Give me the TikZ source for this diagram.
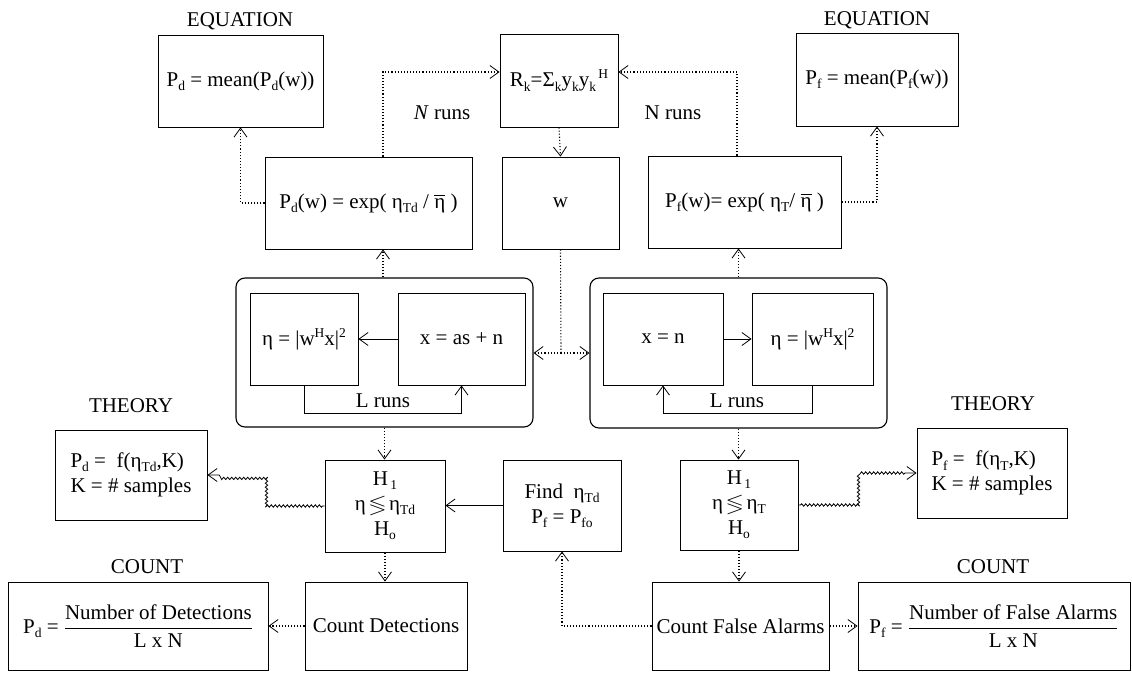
\documentclass[tikz,border=0pt]{standalone}
\usepackage{amsmath,amssymb}
\usepackage{fontspec}
\setmainfont{Liberation Serif}
\usetikzlibrary{arrows.meta,decorations.pathmorphing}
\newcommand\lo[1]{\raisebox{-0.45ex}{\fontsize{13.5}{13.5}\selectfont #1}}
\newcommand\hi[1]{\raisebox{0.85ex}{\fontsize{13.5}{13.5}\selectfont #1}}
\newcommand\etabar{\ensuremath{\overline{\text{η}}}}
\tikzset{
  every node/.style={font=\fontsize{21}{25}\selectfont},
  box/.style={draw, line width=0.9pt, inner sep=2pt, align=center},
  cont/.style={draw, line width=1.1pt, rounded corners=9pt},
  title/.style={inner sep=0pt},
  tipb/.style={-{Straight Barb[length=9pt,width=13pt,line width=0.8pt]}},
  dotc/.style={line width=1.1pt, dotted, tipb},
  solc/.style={line width=0.8pt, tipb},
  wavy/.style={line width=0.8pt, tipb, decorate,
    decoration={snake, amplitude=1.2pt, segment length=4pt, pre length=2pt, post length=10pt}},
}
\begin{document}
\begin{tikzpicture}[x=1pt,y=-1pt]
\useasboundingbox (0,0) rectangle (1132,674);
% top row
\node[title] (eqLt) at (240,21) {EQUATION};
\node[box, minimum width=165pt, minimum height=92pt] (eqL) at (240.5,81) {P\lo{d} = mean(P\lo{d}(w))};
\node[box, minimum width=118pt, minimum height=93pt] (Rk) at (559,80.5) {R\lo{k}=Σ\lo{k}y\lo{k}y\lo{k}\hi{\,H}};
\node[title] (eqRt) at (877,20) {EQUATION};
\node[box, minimum width=162pt, minimum height=93pt] (eqR) at (877,79.5) {P\lo{f} = mean(P\lo{f}(w))};
% second row
\node[box, minimum width=207pt, minimum height=92pt] (Pdw) at (368.5,203) {P\lo{d}(w) = exp( η\lo{Td} / \etabar\ )};
\node[box, minimum width=117pt, minimum height=92pt] (w) at (560.5,203) {w};
\node[box, minimum width=193pt, minimum height=92pt] (Pfw) at (744.5,202) {P\lo{f}(w)= exp( η\lo{T}/ \etabar\ )};
% containers
\node[cont, minimum width=297pt, minimum height=149pt] (contL) at (384.5,352.5) {};
\node[cont, minimum width=297pt, minimum height=150pt] (contR) at (738.5,353) {};
\node[box, minimum width=108pt, minimum height=92pt] (etaL) at (304,339) {η = |w\hi{H}x|\hi{2}};
\node[box, minimum width=127pt, minimum height=92pt] (xL) at (461.5,339) {x = as + n};
\node[box, minimum width=120pt, minimum height=92pt] (xR) at (663,339) {x = n};
\node[box, minimum width=121pt, minimum height=92pt] (etaR) at (812.5,339) {η = |w\hi{H}x|\hi{2}};
\node[title] (lrL) at (383,401) {L runs};
\node[title] (lrR) at (737,401) {L runs};
% third row
\node[title] (thLt) at (131,406) {THEORY};
\node[box, minimum width=152pt, minimum height=90pt, align=left] (thL) at (131,475) {P\lo{d} = \ f(η\lo{Td},K)\\K = \# samples};
\node[box, minimum width=120pt, minimum height=92pt, inner sep=0pt] (HL) at (385,506) {H\lo{\,1}\\η\,$\lessgtr$\,η\lo{Td}\\H\lo{o}};
\node[box, minimum width=118pt, minimum height=91pt] (find) at (562,505.5) {Find \ η\lo{Td}\\P\lo{f} = P\lo{fo}};
\node[box, minimum width=118pt, minimum height=90pt, inner sep=0pt] (HR) at (739,505) {H\lo{\,1}\\η\,$\lessgtr$\,η\lo{T}\\H\lo{o}};
\node[title] (thRt) at (993,404) {THEORY};
\node[box, minimum width=150pt, minimum height=90pt, align=left] (thR) at (992,473) {P\lo{f} = \ f(η\lo{T},K)\\K = \# samples};
% bottom row
\node[title] (cntLt) at (147,567) {COUNT};
\node[box, minimum width=260pt, minimum height=88pt, inner sep=0pt] (cntL) at (138,626) {P\lo{d} = $\displaystyle\frac{\text{Number of Detections}}{\text{L x N}}$};
\node[box, minimum width=162pt, minimum height=88pt] (cd) at (386,626) {Count Detections};
\node[box, minimum width=177pt, minimum height=88pt] (cfa) at (740.5,626) {Count False Alarms};
\node[title] (cntRt) at (993,567) {COUNT};
\node[box, minimum width=272pt, minimum height=88pt, inner sep=0pt] (cntR) at (994,626) {P\lo{f} = $\displaystyle\frac{\text{Number of False Alarms}}{\text{L x N}}$};
% helper coordinates
\coordinate (nl) at (383,72);
\coordinate (nr) at (737,72);
\coordinate (j) at (561,353);
% N runs loops
\draw[dotc] (Pdw.north -| nl) |- (Rk.west |- nl);
\draw[dotc] (Pfw.north -| nr) |- (Rk.east |- nr);
\node[title] (nrL) at (442,113) {\textit{N} runs};
\node[title] (nrR) at (673,113) {N runs};
\draw[dotc] (Rk.south) -- (w.north);
\draw[dotc] (Pdw.west) -| (eqL.south);
\draw[dotc] (Pfw.east) -| (eqR.south);
\draw[dotc] (contL.north -| nl) -- (Pdw.south -| nl);
\draw[dotc] (contR.north) -- (contR.north |- Pfw.south);
% w to containers
\draw[line width=1.1pt, dotted] (w.south) -- (j);
\draw[dotc] (j) -- (contL.east |- j);
\draw[dotc] (j) -- (contR.west |- j);
% inner loops
\draw[solc] (xL.west) -- (etaL.east);
\draw[solc] (etaL.south) -- ++(0,28) -| (xL.south);
\draw[solc] (xR.east) -- (etaR.west);
\draw[solc] (etaR.south) -- ++(0,28) -| (xR.south);
% decisions
\draw[dotc] (contL.south) -- (contL.south |- HL.north);
\draw[dotc] (HL.south) -- (HL.south |- cd.north);
\draw[dotc] (contR.south) -- (contR.south |- HR.north);
\draw[dotc] (HR.south) -- (HR.south |- cfa.north);
\draw[wavy] (HL.west) -- ++(-58,0) |- (thL.east);
\draw[wavy] (HR.east) -- ++(60,0) |- (thR.west);
\draw[solc] (find.west) -- (HL.east |- find.west);
\draw[dotc] (cfa.west) -| (find.south);
\draw[dotc] (cd.west) -- (cntL.east);
\draw[dotc] (cfa.east) -- (cntR.west);
\end{tikzpicture}
\end{document}
